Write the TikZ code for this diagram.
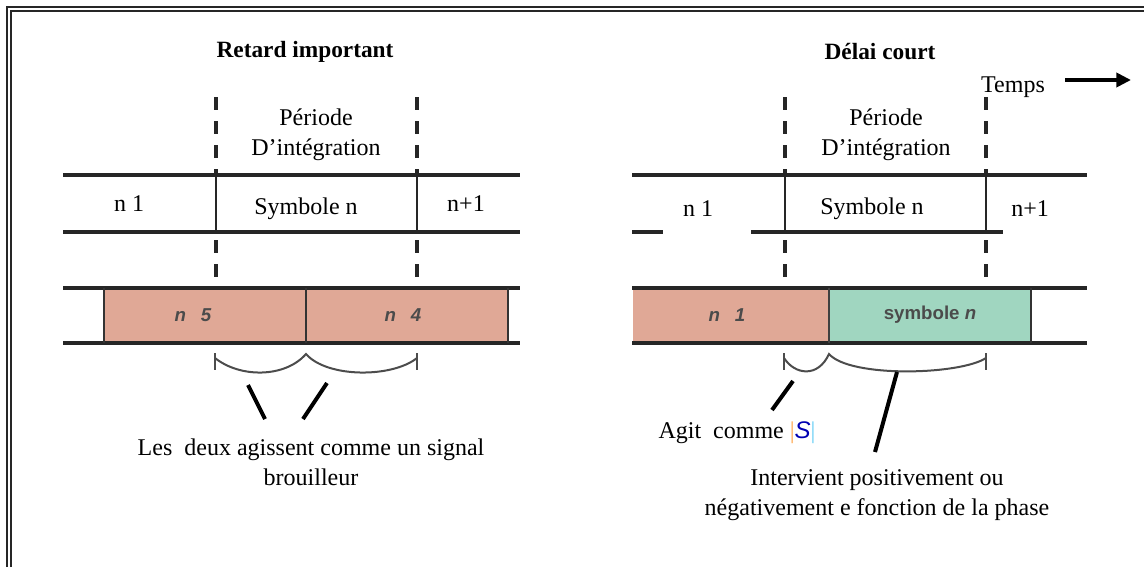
\documentclass[tikz,border=0pt]{standalone}
\usepackage{fontspec}
\setmainfont{Liberation Serif}
\setsansfont{Liberation Sans}
\usetikzlibrary{arrows.meta,positioning}
\definecolor{cellrose}{RGB}{224,168,150}
\definecolor{cellvert}{RGB}{160,214,192}
\definecolor{celltxt}{RGB}{75,75,75}
\tikzset{
  txt/.style={font=\fontsize{18}{22.5}\selectfont, inner sep=1pt, align=center},
  ttl/.style={txt, font=\fontsize{17.5}{22.5}\selectfont\bfseries},
  rowline/.style={line width=2.5pt, black!85},
  sepdash/.style={line width=2.4pt, black!85, dash pattern=on 10pt off 8pt},
  sepsolid/.style={line width=2.2pt, black!85},
  rosecell/.style={fill=cellrose},
  vertcell/.style={fill=cellvert},
  cellwall/.style={line width=1.8pt, black!80},
  celltext/.style={font=\fontsize{14}{16}\selectfont\sffamily\bfseries, text=celltxt},
  accol/.style={line width=1.5pt, black!70},
  pointer/.style={line width=3pt},
  framel/.style={line width=1.6pt, black!85},
}
\begin{document}
\begin{tikzpicture}[x=0.75pt, y=-0.75pt]
  \useasboundingbox (0,0) rectangle (1144,567);
  % cadre double
  \draw[framel] (7,567) -- (7,7) -- (1144,7);
  \draw[line width=1pt, black!85] (11,567) -- (11,11) -- (1144,11);

  % ---- Retard important ----
  \node[ttl] (titreA) at (305,52) {Retard important};
  \node[txt] (perA) at (316,135) {Période\\D’intégration};
  \draw[rowline] (63,175) -- (520,175);
  \draw[rowline] (63,232) -- (520,232);
  \foreach \x in {216,417}{
    \draw[sepdash] (\x,97) -- (\x,175);
    \draw[sepsolid] (\x,175) -- (\x,232);
    \draw[sepdash] (\x,240) -- (\x,288);
  }
  \node[txt] (an1) at (129,204) {n 1};
  \node[txt] (asym) at (306,209) {Symbole n};
  \node[txt] (anp) at (466,204) {n+1};
  % barre recue
  \fill[rosecell] (104,288) rectangle (306,343);
  \fill[rosecell] (306,288) rectangle (508,343);
  \draw[rowline] (63,288) -- (520,288);
  \draw[rowline] (63,343) -- (520,343);
  \foreach \x in {104,306,508}
    \draw[cellwall] (\x,288) -- (\x,343);
  \node[celltext] (an5) at (193,315) {\itshape n\hspace{0.8em}5};
  \node[celltext] (an4) at (403,315) {\itshape n\hspace{0.8em}4};
  % accolades
  \draw[accol] (215,353) -- (215,370);
  \draw[accol] (417,353) -- (417,370);
  \draw[accol] (215,358) .. controls (240,378) and (285,378) .. (306,354)
               .. controls (327,378) and (392,378) .. (417,358);
  \coordinate (pa1) at (248,385);
  \coordinate (pa2) at (265,419);
  \coordinate (pb1) at (327,383);
  \coordinate (pb2) at (303,419);
  \draw[pointer] (pa1) -- (pa2);
  \draw[pointer] (pb1) -- (pb2);
  \node[txt] (notA) at (311,462) {Les\ \ deux agissent comme un signal\\brouilleur};

  % ---- Delai court ----
  \node[ttl] (titreB) at (880,52) {Délai court};
  \node[txt] (temps) at (1013,87) {Temps};
  \coordinate (ta) at (1065,80);
  \coordinate (tb) at (1131,80);
  \draw[line width=3.5pt, -{Triangle[length=11pt, width=10.5pt]}] (ta) -- (tb);
  \node[txt] (perB) at (886,135) {Période\\D’intégration};
  \draw[rowline] (632,175) -- (1087,175);
  \draw[rowline] (632,232) -- (663,232);
  \draw[rowline] (751,232) -- (1003,232);
  \foreach \x in {785,986}{
    \draw[sepdash] (\x,97) -- (\x,175);
    \draw[sepsolid] (\x,175) -- (\x,232);
    \draw[sepdash] (\x,240) -- (\x,288);
  }
  \node[txt] (bn1) at (698,209) {n 1};
  \node[txt] (bsym) at (872,209) {Symbole n};
  \node[txt] (bnp) at (1030,209) {n+1};
  % barre recue
  \fill[rosecell] (633,288) rectangle (829,343);
  \fill[vertcell] (829,288) rectangle (1031,343);
  \draw[rowline] (632,288) -- (1087,288);
  \draw[rowline] (632,343) -- (1087,343);
  \draw[line width=1.2pt, black!75] (829,288) -- (829,343);
  \draw[cellwall] (1031,288) -- (1031,343);
  \node[celltext] (bn1b) at (727,315) {\itshape n\hspace{0.8em}1};
  \node[celltext] (bsymb) at (930,315) {symbole \itshape n};
  % accolades
  \draw[accol] (784,353) -- (784,370);
  \draw[accol] (986,353) -- (986,370);
  \draw[accol] (784,358) .. controls (795,375) and (818,378) .. (829,354)
               .. controls (850,378) and (960,375) .. (986,358);
  \coordinate (pc1) at (793,381);
  \coordinate (pc2) at (772,410);
  \coordinate (pd1) at (897,372);
  \coordinate (pd2) at (875,452);
  \draw[pointer] (pc1) -- (pc2);
  \draw[pointer] (pd1) -- (pd2);
  \node[txt] (agit) at (737,433) {Agit\ \ comme \textcolor{orange!70}{|}\textcolor{blue!70!black}{\sffamily\itshape S}\textcolor{cyan!60}{|}};
  \node[txt] (interv) at (877,495) {Intervient positivement ou\\négativement e fonction de la phase};
\end{tikzpicture}
\end{document}
